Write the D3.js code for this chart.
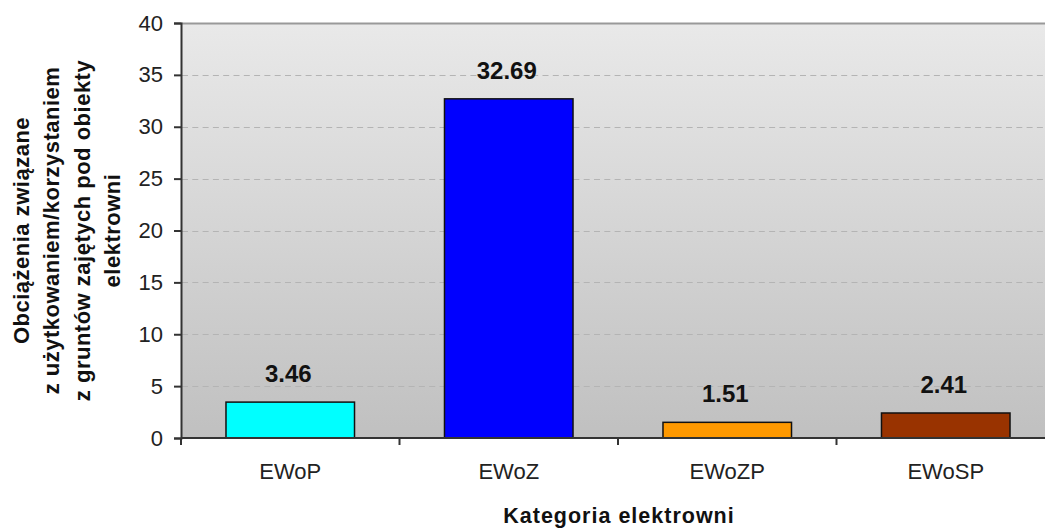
<!DOCTYPE html>
<html>
<head>
<meta charset="utf-8">
<script src="https://cdn.jsdelivr.net/npm/d3@7"></script>
<style>
  html, body { margin: 0; padding: 0; background: #fff; }
  svg { display: block; font-family: "Liberation Sans", Arial, sans-serif; }
</style>
</head>
<body>
<svg id="chart" width="1045" height="531"></svg>
<script>
// Land-use burden per power-plant category
const categories = ["EWoP", "EWoZ", "EWoZP", "EWoSP"];
const values = [3.46, 32.69, 1.51, 2.41];
const barColors = ["#00ffff", "#0000ff", "#ff9900", "#993300"];
const yTicks = [0, 5, 10, 15, 20, 25, 30, 35, 40];
const yTitleLines = [
  "Obciążenia związane",
  "z użytkowaniem/korzystaniem",
  "z gruntów zajętych pod obiekty",
  "elektrowni"
];
const xTitle = "Kategoria elektrowni";

const svg = d3.select("#chart");
const plot = { left: 181, right: 1055, top: 23, bottom: 438 };

const x = d3.scaleBand()
  .domain(categories)
  .range([plot.left, plot.right])
  .paddingInner(0.7 / 1.7)
  .paddingOuter(0.35 / 1.7);

const y = d3.scaleLinear()
  .domain([0, 40])
  .range([plot.bottom, plot.top]);

// plot-area background: light grey fading darker toward the bottom
const defs = svg.append("defs");
const grad = defs.append("linearGradient")
  .attr("id", "plotBg").attr("x1", 0).attr("y1", 0).attr("x2", 0).attr("y2", 1);
grad.append("stop").attr("offset", "0%").attr("stop-color", "#e9e9e9");
grad.append("stop").attr("offset", "100%").attr("stop-color", "#c0c0c0");

svg.append("rect")
  .attr("x", plot.left).attr("y", plot.top)
  .attr("width", plot.right - plot.left).attr("height", plot.bottom - plot.top)
  .attr("fill", "url(#plotBg)");

// top border of the plot area
svg.append("line")
  .attr("x1", plot.left).attr("x2", plot.right)
  .attr("y1", plot.top + 0.5).attr("y2", plot.top + 0.5)
  .attr("stroke", "#999").attr("stroke-width", 2);

// dashed horizontal gridlines
svg.append("g")
  .selectAll("line")
  .data(yTicks.filter(t => t > 0 && t < 40))
  .join("line")
  .attr("x1", plot.left + 1).attr("x2", plot.right)
  .attr("y1", d => Math.round(y(d)) + 0.5).attr("y2", d => Math.round(y(d)) + 0.5)
  .attr("stroke", "#b4b4b4").attr("stroke-width", 1)
  .attr("stroke-dasharray", "6,4.3");

// bars
svg.append("g")
  .selectAll("rect")
  .data(values)
  .join("rect")
  .attr("x", (d, i) => x(categories[i]))
  .attr("y", d => y(d))
  .attr("width", x.bandwidth())
  .attr("height", d => y(0) - y(d))
  .attr("fill", (d, i) => barColors[i])
  .attr("stroke", "#111").attr("stroke-width", 1.5);

// value labels above bars
svg.append("g")
  .selectAll("text")
  .data(values)
  .join("text")
  .attr("x", (d, i) => x(categories[i]) + x.bandwidth() / 2 - 2)
  .attr("y", d => y(d) - 20)
  .attr("text-anchor", "middle")
  .attr("font-size", 24).attr("font-weight", "bold")
  .attr("fill", "#111")
  .text(d => d.toFixed(2));

// y axis
const yAxis = d3.axisLeft(y).tickValues(yTicks).tickSize(7).tickPadding(11);
const gy = svg.append("g")
  .attr("transform", `translate(${plot.left},0)`)
  .call(yAxis);
gy.select(".domain").attr("stroke", "#333").attr("stroke-width", 2);
gy.selectAll(".tick line").attr("stroke", "#333").attr("stroke-width", 2);
gy.selectAll(".tick text")
  .attr("font-size", 22).attr("font-family", "Liberation Sans, Arial, sans-serif")
  .attr("fill", "#222");

// x axis baseline with ticks at category boundaries
const gx = svg.append("g");
gx.append("line")
  .attr("x1", plot.left).attr("x2", plot.right)
  .attr("y1", plot.bottom).attr("y2", plot.bottom)
  .attr("stroke", "#333").attr("stroke-width", 2);
const step = x.step();
const boundaries = d3.range(categories.length + 1).map(i => plot.left + i * step);
gx.selectAll("line.tk")
  .data(boundaries)
  .join("line").attr("class", "tk")
  .attr("x1", d => d).attr("x2", d => d)
  .attr("y1", plot.bottom).attr("y2", plot.bottom + 7)
  .attr("stroke", "#333").attr("stroke-width", 2);
gx.selectAll("text")
  .data(categories)
  .join("text")
  .attr("x", d => x(d) + x.bandwidth() / 2)
  .attr("y", 479)
  .attr("text-anchor", "middle")
  .attr("font-size", 22).attr("fill", "#222")
  .text(d => d);

// axis titles
svg.append("text")
  .attr("x", 619)
  .attr("y", 523)
  .attr("text-anchor", "middle")
  .attr("font-size", 21.5).attr("font-weight", "bold")
  .attr("letter-spacing", 1)
  .attr("fill", "#111")
  .text(xTitle);

const yt = svg.append("text")
  .attr("transform", `translate(0,${(plot.top + plot.bottom) / 2}) rotate(-90)`)
  .attr("text-anchor", "middle")
  .attr("font-size", 22).attr("font-weight", "bold")
  .attr("letter-spacing", 0.5)
  .attr("fill", "#111");
yt.selectAll("tspan")
  .data(yTitleLines)
  .join("tspan")
  .attr("x", 0)
  .attr("y", (d, i) => 29 + i * 30.3)
  .text(d => d);
</script>
</body>
</html>
